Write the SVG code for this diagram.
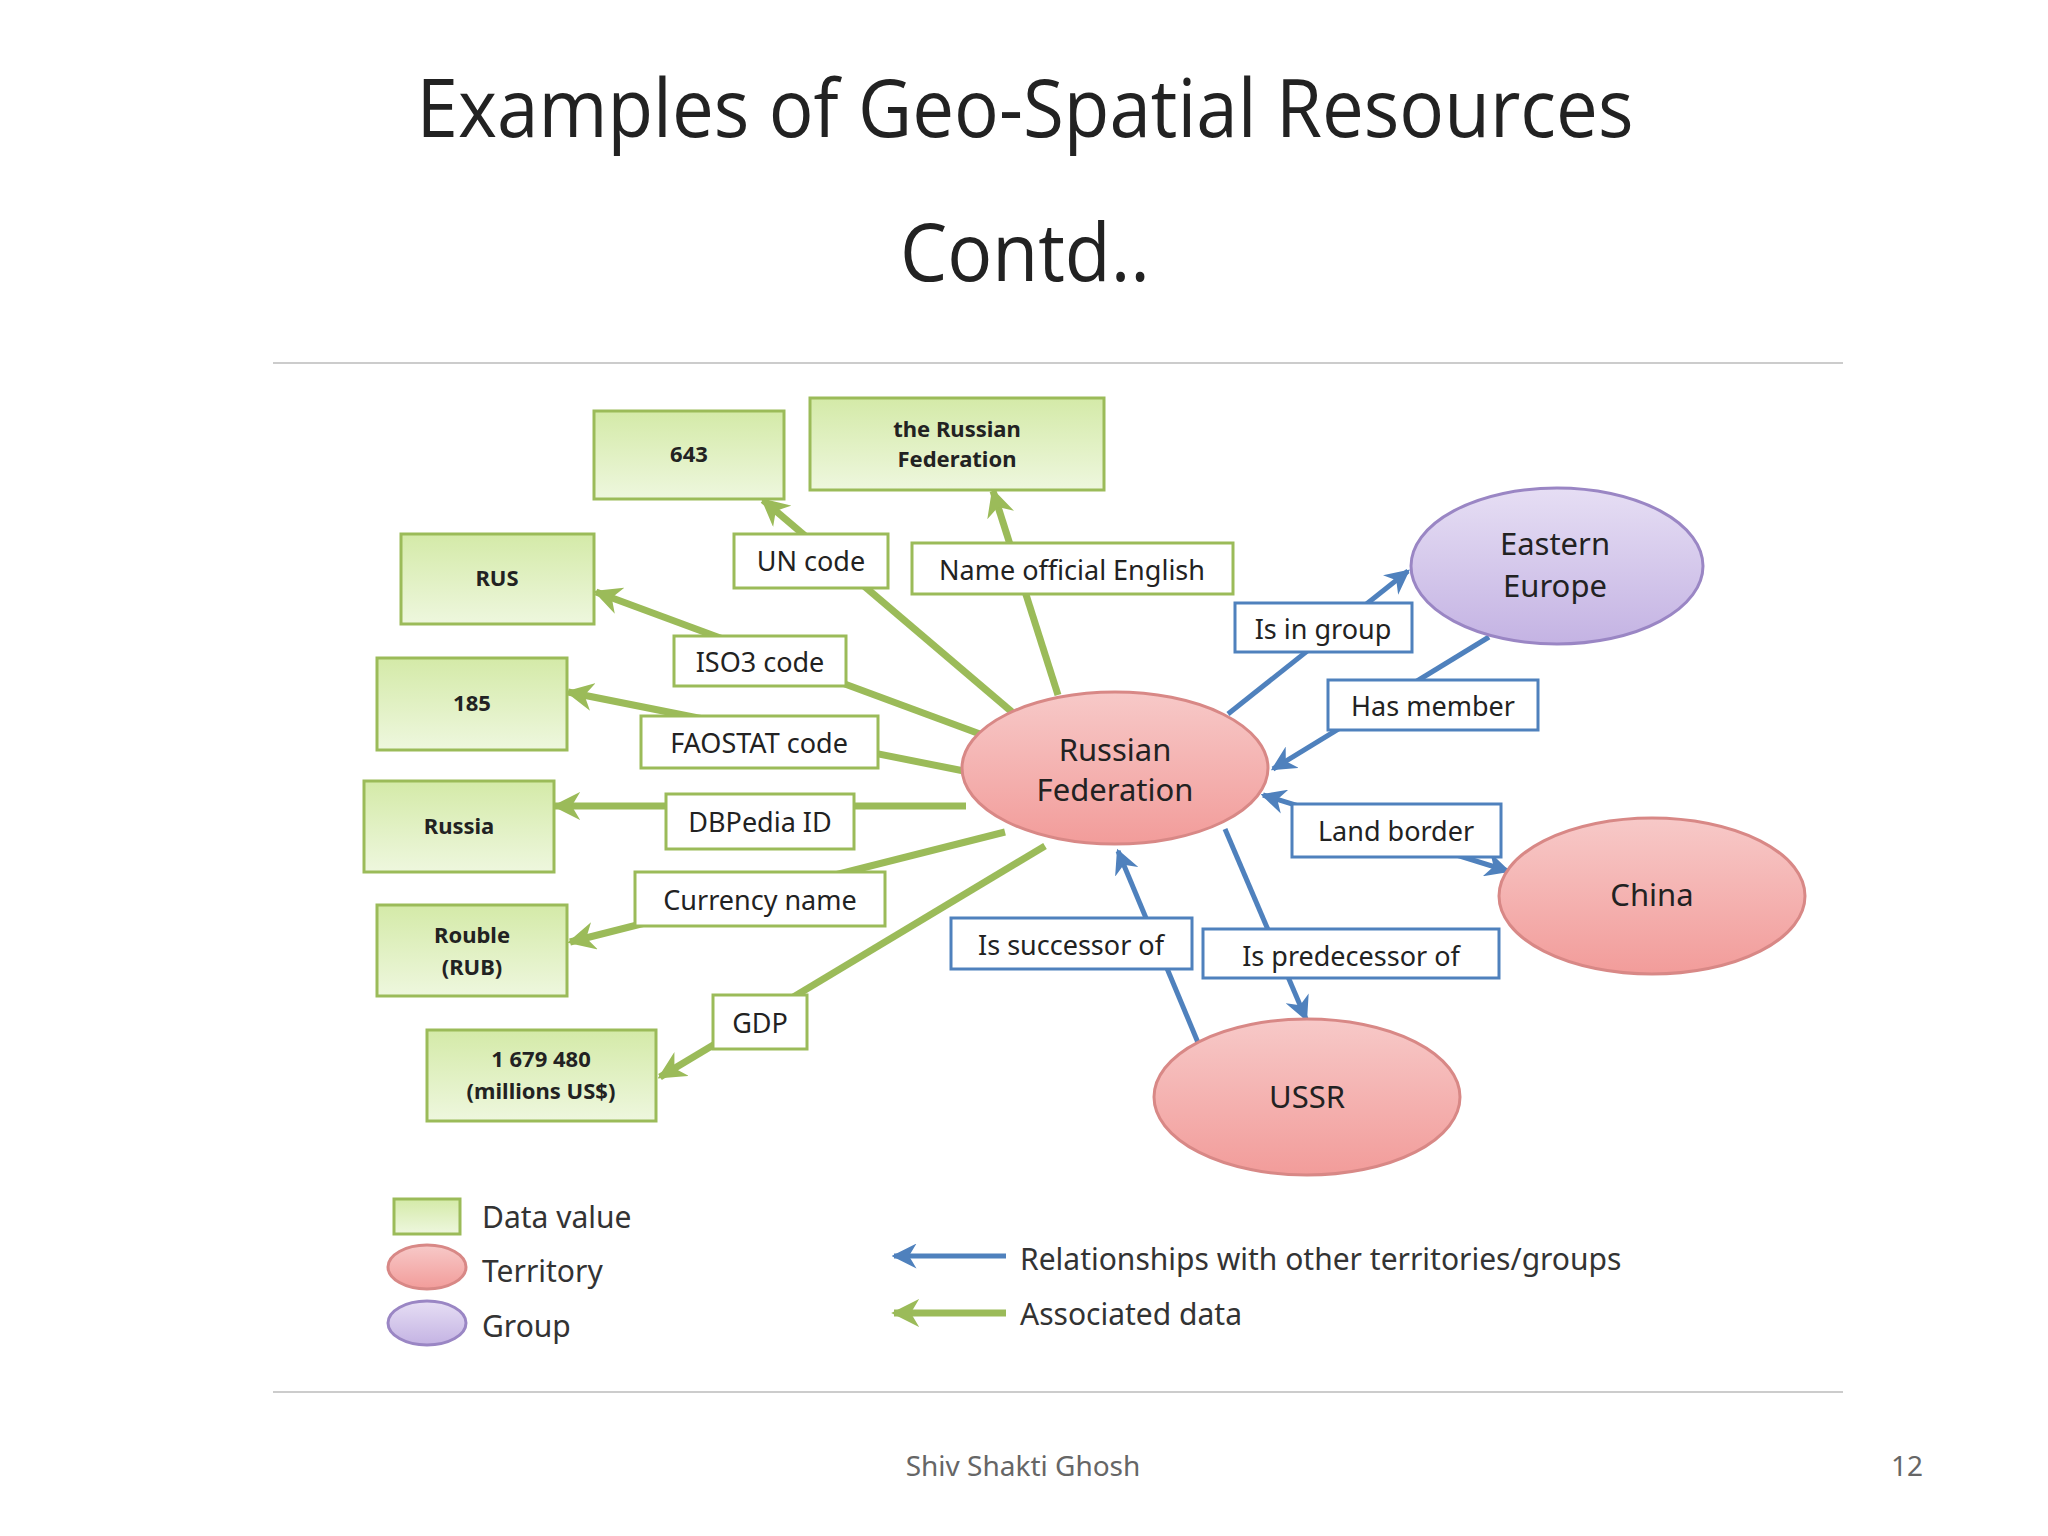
<svg xmlns="http://www.w3.org/2000/svg" width="2048" height="1536" viewBox="0 0 2048 1536">
<defs>
<linearGradient id="gv" x1="0" y1="0" x2="0" y2="1"><stop offset="0" stop-color="#d4eaa8"/><stop offset="1" stop-color="#eef7de"/></linearGradient>
<linearGradient id="gt" x1="0" y1="0" x2="0" y2="1"><stop offset="0" stop-color="#f7c9c8"/><stop offset="1" stop-color="#f29c9a"/></linearGradient>
<linearGradient id="gg" x1="0" y1="0" x2="0" y2="1"><stop offset="0" stop-color="#e6def4"/><stop offset="1" stop-color="#c4b3e3"/></linearGradient>
<marker id="ag" viewBox="0 0 10 10" refX="9" refY="5" markerWidth="4" markerHeight="4" orient="auto-start-reverse"><path d="M0,0 L10,5 L0,10 L3,5 z" fill="#9bbb59"/></marker>
<marker id="ab" viewBox="0 0 10 10" refX="9" refY="5" markerWidth="5" markerHeight="5" orient="auto-start-reverse"><path d="M0,0 L10,5 L0,10 L3,5 z" fill="#4f81bd"/></marker>
</defs>
<style>
text{font-family:"Noto Sans","Open Sans",sans-serif;fill:#222;text-anchor:middle}
.v{fill:url(#gv);stroke:#9bbb59;stroke-width:3}
.vt{font-size:22px;font-weight:bold}
.gl{fill:#fff;stroke:#9bbb59;stroke-width:3}
.bl{fill:#fff;stroke:#4f81bd;stroke-width:3}
.lt{font-size:27px}
.t{fill:url(#gt);stroke:#d88886;stroke-width:3}
.g{fill:url(#gg);stroke:#9a86c4;stroke-width:3}
.et{font-size:31px}
.cg{stroke:#9bbb59;stroke-width:7;fill:none;marker-end:url(#ag)}
.cb{stroke:#4f81bd;stroke-width:5;fill:none;marker-end:url(#ab)}
.leg{font-size:30px;text-anchor:start;fill:#333}
</style>
<rect width="2048" height="1536" fill="#fff"/>
<text x="1025" y="137" font-size="80" textLength="1217" lengthAdjust="spacingAndGlyphs" style="font-family:'Open Sans',sans-serif">Examples of Geo-Spatial Resources</text>
<text x="1025" y="281" font-size="80" style="font-family:'Open Sans',sans-serif" textLength="250" lengthAdjust="spacingAndGlyphs">Contd..</text>
<line x1="273" y1="363" x2="1843" y2="363" stroke="#ccc" stroke-width="2"/>
<line x1="273" y1="1392" x2="1843" y2="1392" stroke="#ccc" stroke-width="2"/>
<g id="connectors">
<line class="cg" x1="1012" y1="712" x2="763" y2="500"/>
<line class="cg" x1="1058" y1="695" x2="993" y2="491"/>
<line class="cg" x1="980" y1="734" x2="596" y2="592"/>
<line class="cg" x1="964" y1="771" x2="568" y2="692"/>
<line class="cg" x1="966" y1="806" x2="555" y2="806"/>
<line class="cg" x1="1005" y1="832" x2="570" y2="942"/>
<line class="cg" x1="1045" y1="846" x2="660" y2="1077"/>
<line class="cb" x1="1228" y1="714" x2="1408" y2="571"/>
<line class="cb" x1="1489" y1="637" x2="1273" y2="769"/>
<line class="cb" x1="1508" y1="871" x2="1263" y2="795" marker-start="url(#ab)"/>
<line class="cb" x1="1199" y1="1045" x2="1118" y2="851"/>
<line class="cb" x1="1225" y1="829" x2="1306" y2="1019"/>
</g>
<g id="n643"><rect class="v" x="594" y="411" width="190" height="88"/><text class="vt" x="689" y="462">643</text></g>
<g id="nTRF"><rect class="v" x="810" y="398" width="294" height="92"/><text class="vt" x="957" y="437">the Russian</text><text class="vt" x="957" y="467">Federation</text></g>
<g id="nRUS"><rect class="v" x="401" y="534" width="193" height="90"/><text class="vt" x="497" y="586">RUS</text></g>
<g id="n185"><rect class="v" x="377" y="658" width="190" height="92"/><text class="vt" x="472" y="711">185</text></g>
<g id="nRussia"><rect class="v" x="364" y="781" width="190" height="91"/><text class="vt" x="459" y="834">Russia</text></g>
<g id="nRouble"><rect class="v" x="377" y="905" width="190" height="91"/><text class="vt" x="472" y="943">Rouble</text><text class="vt" x="472" y="975">(RUB)</text></g>
<g id="nGDPv"><rect class="v" x="427" y="1030" width="229" height="91"/><text class="vt" x="541" y="1067">1 679 480</text><text class="vt" x="541" y="1099">(millions US$)</text></g>
<g id="lUN"><rect class="gl" x="734" y="534" width="154" height="54"/><text class="lt" x="811" y="571">UN code</text></g>
<g id="lName"><rect class="gl" x="912" y="543" width="321" height="51"/><text class="lt" x="1072" y="580">Name official English</text></g>
<g id="lISO"><rect class="gl" x="674" y="636" width="172" height="50"/><text class="lt" x="760" y="672">ISO3 code</text></g>
<g id="lFAO"><rect class="gl" x="641" y="716" width="237" height="52"/><text class="lt" x="759" y="753">FAOSTAT code</text></g>
<g id="lDBP"><rect class="gl" x="666" y="794" width="188" height="55"/><text class="lt" x="760" y="832">DBPedia ID</text></g>
<g id="lCur"><rect class="gl" x="635" y="872" width="250" height="54"/><text class="lt" x="760" y="910">Currency  name</text></g>
<g id="lGDP"><rect class="gl" x="713" y="995" width="94" height="54"/><text class="lt" x="760" y="1033">GDP</text></g>
<g id="lGroup"><rect class="bl" x="1235" y="603" width="177" height="49"/><text class="lt" x="1323" y="639">Is in group</text></g>
<g id="lMem"><rect class="bl" x="1328" y="680" width="210" height="50"/><text class="lt" x="1433" y="716">Has member</text></g>
<g id="lLand"><rect class="bl" x="1292" y="804" width="209" height="53"/><text class="lt" x="1396" y="841">Land border</text></g>
<g id="lSucc"><rect class="bl" x="951" y="918" width="241" height="51"/><text class="lt" x="1071" y="955">Is successor of</text></g>
<g id="lPred"><rect class="bl" x="1203" y="929" width="296" height="49"/><text class="lt" x="1351" y="966">Is predecessor of</text></g>
<g id="eRF"><ellipse class="t" cx="1115" cy="768" rx="153" ry="76"/><text class="et" x="1115" y="761">Russian</text><text class="et" x="1115" y="801">Federation</text></g>
<g id="eEE"><ellipse class="g" cx="1557" cy="566" rx="146" ry="78"/><text class="et" x="1555" y="555">Eastern</text><text class="et" x="1555" y="597">Europe</text></g>
<g id="eChina"><ellipse class="t" cx="1652" cy="896" rx="153" ry="78"/><text class="et" x="1652" y="906">China</text></g>
<g id="eUSSR"><ellipse class="t" cx="1307" cy="1097" rx="153" ry="78"/><text class="et" x="1307" y="1108">USSR</text></g>
<g id="legend">
<rect class="v" x="394" y="1199" width="66" height="35"/><text class="leg" x="482" y="1228">Data value</text>
<ellipse class="t" cx="427" cy="1267" rx="39" ry="22"/><text class="leg" x="482" y="1282">Territory</text>
<ellipse class="g" cx="427" cy="1323" rx="39" ry="22"/><text class="leg" x="482" y="1337">Group</text>
<line class="cb" x1="1006" y1="1256" x2="894" y2="1256"/><text class="leg" x="1020" y="1270">Relationships with other territories/groups</text>
<line class="cg" x1="1006" y1="1313" x2="894" y2="1313"/><text class="leg" x="1020" y="1325">Associated data</text>
</g>
<text x="1023" y="1476" font-size="28" fill="#666" style="fill:#666">Shiv Shakti Ghosh</text>
<text x="1907" y="1476" font-size="28" style="fill:#666">12</text>
</svg>
